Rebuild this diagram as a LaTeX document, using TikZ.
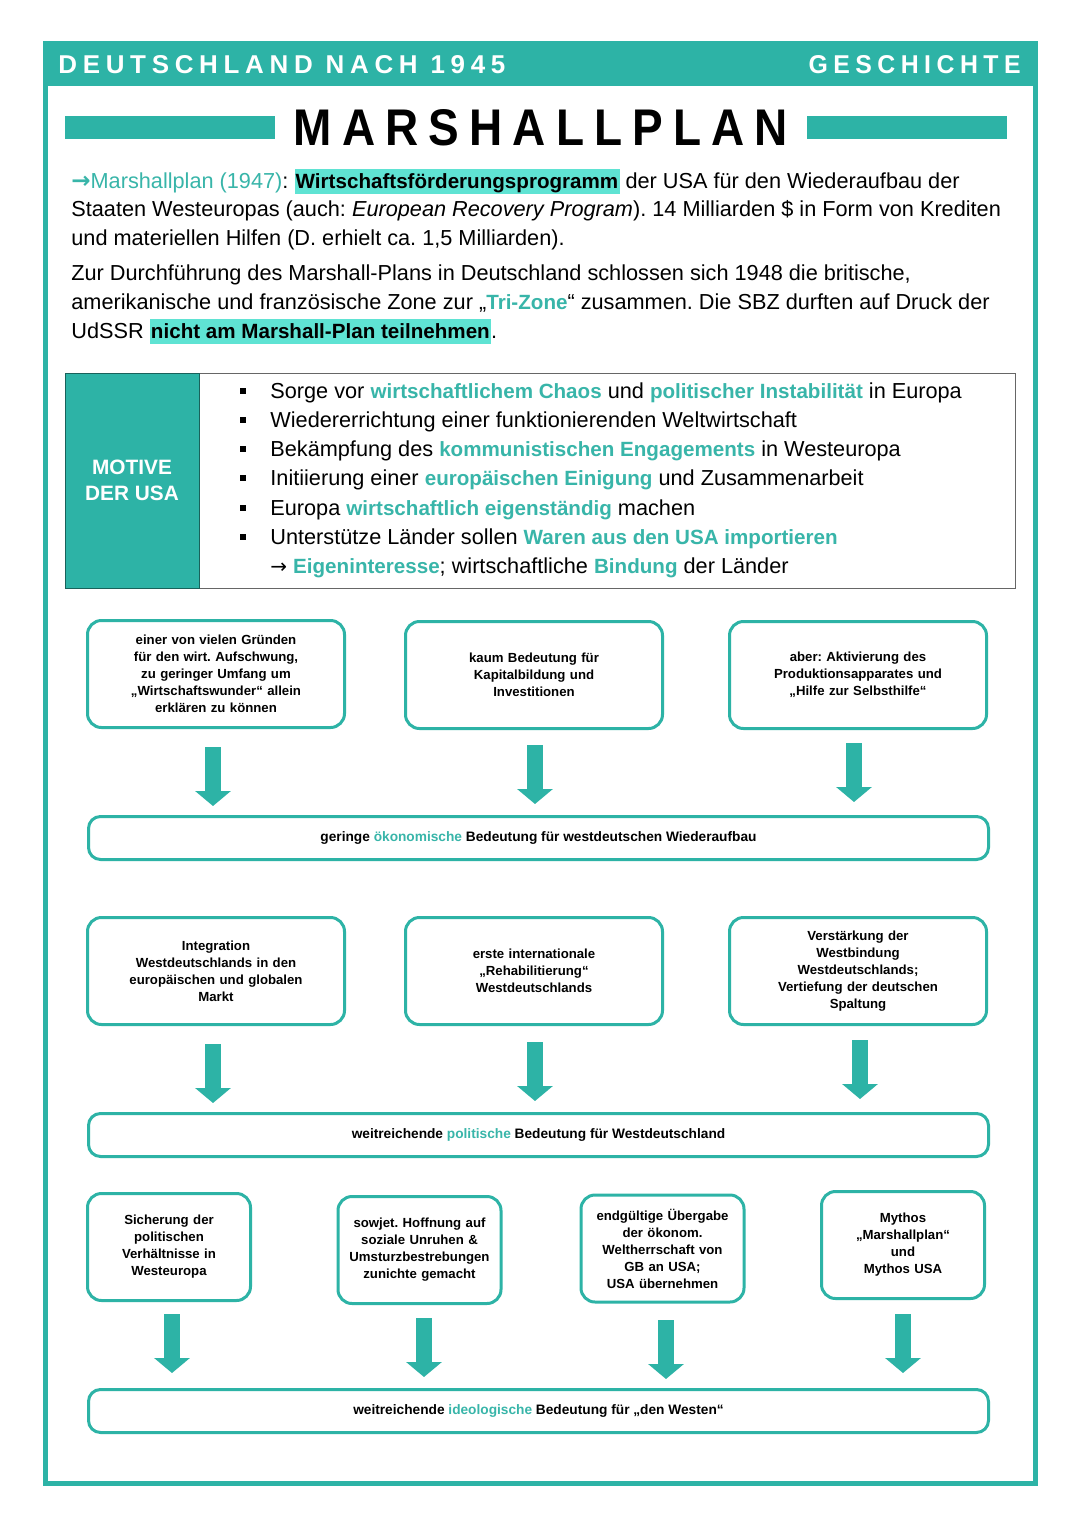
\documentclass[tikz,border=0pt]{standalone}
\usepackage{fontspec}
\setmainfont{Liberation Sans}
\newfontfamily\widefont[LetterSpace=22]{Liberation Sans}
\newfontfamily\dejavu{DejaVu Sans}
\usetikzlibrary{arrows.meta}
\definecolor{tl}{HTML}{2DB3A6}
\definecolor{hl}{HTML}{5FE3D3}
\definecolor{tt}{HTML}{38B5A9}
\newcommand{\B}[1]{{\fontsize{10.3}{12.4}\selectfont\bfseries #1}}
\newcommand{\hlt}[1]{{\setlength{\fboxsep}{0.6pt}\colorbox{hl}{\rule[-2.4pt]{0pt}{11.2pt}\B{#1}}}}
\newcommand{\tc}[1]{\textcolor{tt}{#1}}
\frenchspacing
\tikzset{
  body/.style={anchor=base west, inner sep=0pt, font=\fontsize{10.85}{12.4}\selectfont},
  rbox/.style={draw=tl, line width=1.5pt, rounded corners=7pt, minimum height=53.5pt, align=center, inner sep=2pt, font=\fontsize{6.6}{8.5}\selectfont\bfseries},
  wbox/.style={rbox, minimum width=128.5pt, text width=122pt},
  nbox/.style={rbox, minimum width=81.5pt, text width=76pt},
  bar/.style={draw=tl, line width=1.5pt, rounded corners=6pt, minimum width=450pt, minimum height=21.5pt, inner sep=0pt, font=\fontsize{6.85}{8}\selectfont\bfseries},
  bigarrow/.style={draw=tl, line width=8pt, -{Triangle[width=17.5pt,length=7.5pt]}},
  bul/.style={fill=black, minimum size=3.4pt, inner sep=0pt},
}
\begin{document}
\begin{tikzpicture}[x=0.5pt,y=-0.5pt]
\useasboundingbox (0,0) rectangle (1080,1527);
\fill[white] (0,0) rectangle (1080,1527);
% frame and header
\fill[tl] (45,43) rectangle (1035,86);
\draw[tl, line width=2.5pt] (45,43) rectangle (1035,1483);
\node[anchor=west, inner sep=0pt] (hd1) at (58,64.5) {\resizebox{223.5pt}{9pt}{\color{white}\widefont\bfseries DEUTSCHLAND NACH 1945}};
\node[anchor=east, inner sep=0pt] (hd2) at (1021,64.5) {\resizebox{106pt}{9pt}{\color{white}\widefont\bfseries GESCHICHTE}};
% title
\fill[tl] (65,116) rectangle (275,139);
\fill[tl] (807,116) rectangle (1007,139);
\node[anchor=center, inner sep=0pt] (title) at (541,128) {\resizebox{247pt}{18pt}{\widefont\bfseries MARSHALLPLAN}};
% intro text
\node[body] (i1) at (71,188) {\tc{{\dejavu\bfseries\fontsize{11.5}{12}\selectfont →}Marshallplan (1947)}: \hlt{Wirtschaftsförderungsprogramm} der USA für den Wiederaufbau der};
\node[body] (i2) at (71,216) {Staaten Westeuropas (auch: \textit{European Recovery Program}). 14 Milliarden \$ in Form von Krediten};
\node[body] (i3) at (71,245) {und materiellen Hilfen (D. erhielt ca. 1,5 Milliarden).};
\node[body] (i4) at (71,280) {Zur Durchführung des Marshall-Plans in Deutschland schlossen sich 1948 die britische,};
\node[body] (i5) at (71,309) {amerikanische und französische Zone zur „\tc{\B{Tri-Zone}}“ zusammen. Die SBZ durften auf Druck der};
\node[body] (i6) at (71,338) {UdSSR \hlt{nicht am Marshall-Plan teilnehmen}.};
% motive table
\draw[black!60, line width=0.5pt] (65,373) rectangle (1015,588);
\fill[tl] (65,373) rectangle (199,588);
\draw[black!45!tl, line width=0.5pt] (65,373) rectangle (199,588);
\node[align=center, inner sep=0pt, text=white, font=\fontsize{10.4}{13}\selectfont\bfseries] (mot) at (132,480) {MOTIVE\\DER USA};
\foreach \y [count=\i] in {398,427,456,485,515,544} {
  \node[bul] (b\i) at (243,{\y-7}) {};
}
\node[body] (m1) at (270,398) {Sorge vor \tc{\B{wirtschaftlichem Chaos}} und \tc{\B{politischer Instabilität}} in Europa};
\node[body] (m2) at (270,427) {Wiedererrichtung einer funktionierenden Weltwirtschaft};
\node[body] (m3) at (270,456) {Bekämpfung des \tc{\B{kommunistischen Engagements}} in Westeuropa};
\node[body] (m4) at (270,485) {Initiierung einer \tc{\B{europäischen Einigung}} und Zusammenarbeit};
\node[body] (m5) at (270,515) {Europa \tc{\B{wirtschaftlich eigenständig}} machen};
\node[body] (m6) at (270,544) {Unterstütze Länder sollen \tc{\B{Waren aus den USA importieren}}};
\node[body] (m7) at (270,573) {{\dejavu\fontsize{10}{12}\selectfont →} \tc{\B{Eigeninteresse}}; wirtschaftliche \tc{\B{Bindung}} der Länder};
% row 1
\node[wbox] (r1a) at (216,674) {einer von vielen Gründen\\für den wirt. Aufschwung,\\zu geringer Umfang um\\„Wirtschaftswunder“ allein\\erklären zu können};
\node[wbox] (r1b) at (534,675) {kaum Bedeutung für\\Kapitalbildung und\\Investitionen};
\node[wbox] (r1c) at (858,675) {aber: Aktivierung des\\Produktionsapparates und\\„Hilfe zur Selbsthilfe“};
\node[bar] (bar1) at (538.5,838) {geringe \textcolor{tt}{ökonomische} Bedeutung für westdeutschen Wiederaufbau};
\coordinate (a1s) at (213,747); \coordinate (a1e) at (213,806);
\coordinate (a2s) at (535,745); \coordinate (a2e) at (535,804);
\coordinate (a3s) at (854,743); \coordinate (a3e) at (854,802);
\draw[bigarrow] (a1s) -- (a1e);
\draw[bigarrow] (a2s) -- (a2e);
\draw[bigarrow] (a3s) -- (a3e);
% row 2
\node[wbox] (r2a) at (216,971) {Integration\\Westdeutschlands in den\\europäischen und globalen\\Markt};
\node[wbox] (r2b) at (534,971) {erste internationale\\„Rehabilitierung“\\Westdeutschlands};
\node[wbox] (r2c) at (858,971) {Verstärkung der\\Westbindung\\Westdeutschlands;\\Vertiefung der deutschen\\Spaltung};
\node[bar] (bar2) at (538.5,1135) {weitreichende \textcolor{tt}{politische} Bedeutung für Westdeutschland};
\coordinate (b1s) at (213,1044); \coordinate (b1e) at (213,1103);
\coordinate (b2s) at (535,1042); \coordinate (b2e) at (535,1101);
\coordinate (b3s) at (860,1040); \coordinate (b3e) at (860,1099);
\draw[bigarrow] (b1s) -- (b1e);
\draw[bigarrow] (b2s) -- (b2e);
\draw[bigarrow] (b3s) -- (b3e);
% row 3
\node[nbox] (r3a) at (169,1247) {Sicherung der\\politischen\\Verhältnisse in\\Westeuropa};
\node[nbox] (r3b) at (419.5,1250) {sowjet. Hoffnung auf\\soziale Unruhen \&\\Umsturzbestrebungen\\zunichte gemacht};
\node[nbox] (r3c) at (662.5,1248.5) {endgültige Übergabe\\der ökonom.\\Weltherrschaft von\\GB an USA;\\USA übernehmen};
\node[nbox] (r3d) at (903,1245) {Mythos\\„Marshallplan“\\und\\Mythos USA};
\node[bar] (bar3) at (538.5,1411) {weitreichende \textcolor{tt}{ideologische} Bedeutung für „den Westen“};
\coordinate (c1s) at (172,1314); \coordinate (c1e) at (172,1373);
\coordinate (c2s) at (424,1318); \coordinate (c2e) at (424,1377);
\coordinate (c3s) at (666,1320); \coordinate (c3e) at (666,1379);
\coordinate (c4s) at (903,1314); \coordinate (c4e) at (903,1373);
\draw[bigarrow] (c1s) -- (c1e);
\draw[bigarrow] (c2s) -- (c2e);
\draw[bigarrow] (c3s) -- (c3e);
\draw[bigarrow] (c4s) -- (c4e);
\end{tikzpicture}
\end{document}
